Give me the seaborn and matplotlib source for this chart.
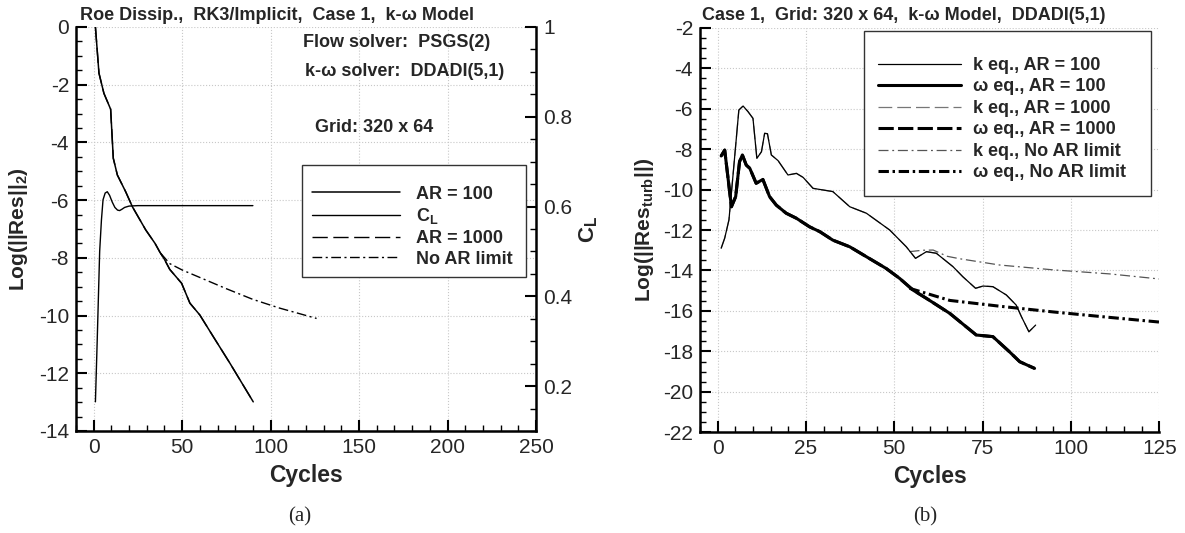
import matplotlib
matplotlib.use("Agg")
import matplotlib.pyplot as plt
import seaborn as sns
from matplotlib.ticker import MultipleLocator, FuncFormatter

# ---------------- data ----------------
# Panel (a): residual history
cyc_ar100 = [1, 3, 5.8, 9.6, 11.1, 13.4, 18.1, 21.9, 29.4, 34.7, 37.4, 40, 43, 49.7, 54.4, 60, 67.6, 77, 90.2]
res_ar100 = [0, -1.6, -2.3, -2.85, -4.55, -5.13, -5.71, -6.23, -7.03, -7.5, -7.8, -8.05, -8.4, -8.88, -9.57, -9.98, -10.73, -11.65, -12.99]
# AR = 1000 coincides with AR = 100 in the reference
cyc_ar1000 = [1, 3, 5.8, 9.6, 11.1, 13.4, 18.1, 21.9, 29.4, 34.7, 37.4, 40, 43, 49.7, 54.4, 60, 67.6, 77, 90.2]
res_ar1000 = [0, -1.6, -2.3, -2.85, -4.55, -5.13, -5.71, -6.23, -7.03, -7.5, -7.8, -8.05, -8.4, -8.88, -9.57, -9.98, -10.73, -11.65, -12.99]
cyc_noar = [38, 43, 50, 60, 75, 90, 105, 126]
res_noar = [-7.85, -8.2, -8.42, -8.68, -9.07, -9.44, -9.74, -10.1]
cyc_cl = [1, 2, 3.4, 4.4, 5.3, 6.5, 7.7, 9, 10.5, 12, 13.5, 14.7, 16, 17.5, 20, 25, 40, 60, 90]
cl_vals = [0.165, 0.3, 0.50, 0.57, 0.615, 0.630, 0.633, 0.625, 0.610, 0.598, 0.592, 0.591, 0.594, 0.598, 0.601, 0.602, 0.602, 0.602, 0.602]

# Panel (b): turbulence residual history
cyc_k100 = [1, 2, 3.2, 4.5, 6, 7.2, 8.6, 10, 11.1, 12.4, 13.3, 14.1, 15.2, 17.1, 19.9, 22.3, 24.2, 27, 29.8,
            32.6, 37.4, 42.1, 48.7, 53.4, 56, 59.1, 61.9, 66.6, 69.4, 73, 75.1, 77.9, 81.7, 84.5, 86, 88.1, 90]
res_k100 = [-12.9, -12.4, -11.5, -9.0, -6.07, -5.87, -6.15, -6.48, -8.46, -8.13, -7.22, -7.24, -8.29, -8.57, -9.28,
            -9.2, -9.4, -9.94, -10.02, -10.1, -10.85, -11.17, -12.0, -12.83, -13.4, -13.07, -13.15, -13.81, -14.31,
            -14.88, -14.77, -14.8, -15.21, -15.71, -16.29, -17.03, -16.7]
cyc_w100 = [1, 2, 3.9, 5.1, 6.2, 7, 8.1, 9.1, 10.9, 12.8, 14.7, 16.6, 19.4, 22.3, 26, 28.9, 32.6, 37.4, 42.1,
            47.7, 51.5, 55.3, 59.1, 65.7, 73.2, 77.9, 82.6, 85.5, 89.7]
res_w100 = [-8.34, -8.05, -10.85, -10.35, -8.62, -8.29, -8.79, -8.95, -9.69, -9.5, -10.35, -10.77, -11.17, -11.42,
            -11.84, -12.08, -12.5, -12.83, -13.32, -13.9, -14.39, -14.97, -15.38, -16.12, -17.19, -17.27, -18.02,
            -18.51, -18.84]
# AR = 1000 curves coincide with AR = 100 in the reference
cyc_k1000 = list(cyc_k100)
res_k1000 = list(res_k100)
cyc_w1000 = list(cyc_w100)
res_w1000 = list(res_w100)
cyc_knoar = [54.3, 58, 61, 65, 68.5, 79.8, 95, 111, 125]
res_knoar = [-13.07, -13.0, -12.99, -13.3, -13.42, -13.73, -13.97, -14.17, -14.42]
cyc_wnoar = [54.3, 65.7, 80, 95, 111, 125]
res_wnoar = [-14.88, -15.48, -15.77, -16.05, -16.32, -16.55]

labels_a = ["AR = 100", r"$\mathbf{C_L}$", "AR = 1000", "No AR limit"]
labels_b = ["k eq., AR = 100", "\u03c9 eq., AR = 100", "k eq., AR = 1000",
            "\u03c9 eq., AR = 1000", "k eq., No AR limit", "\u03c9 eq., No AR limit"]
title_a = "Roe Dissip.,  RK3/Implicit,  Case 1,  k-\u03c9 Model"
title_b = "Case 1,  Grid: 320 x 64,  k-\u03c9 Model,  DDADI(5,1)"
notes_a = ["Flow solver:  PSGS(2)", "k-\u03c9 solver:  DDADI(5,1)", "Grid: 320 x 64"]

# ---------------- style ----------------
sns.set_style("ticks")
plt.rcParams["font.family"] = ["Liberation Sans", "DejaVu Sans"]
plt.rcParams["axes.unicode_minus"] = False
plt.rcParams["mathtext.fontset"] = "custom"
plt.rcParams["mathtext.rm"] = "Liberation Sans"
plt.rcParams["mathtext.bf"] = "Liberation Sans:bold"
plt.rcParams["mathtext.it"] = "Liberation Sans:italic"

fig = plt.figure(figsize=(11.85, 5.33), dpi=100)
axL = fig.add_axes([0.0641, 0.1914, 0.3882, 0.7580])
axR = fig.add_axes([0.5907, 0.1889, 0.3876, 0.7591])

TICK_FS = 15
LAB_FS = 16.5
TXT_FS = 13
LEG_FS = 13


def draw(ax, x, y, lw, color="k", dashes=None):
    sns.lineplot(x=x, y=y, ax=ax, color=color, linewidth=lw, sort=False, estimator=None)
    ln = ax.lines[-1]
    if dashes is not None:
        ln.set_dashes(dashes)
    return ln


def style_axis(ax, xmaj, xmin, ymaj, ymin):
    ax.xaxis.set_major_locator(MultipleLocator(xmaj))
    ax.xaxis.set_minor_locator(MultipleLocator(xmin))
    ax.yaxis.set_major_locator(MultipleLocator(ymaj))
    ax.yaxis.set_minor_locator(MultipleLocator(ymin))
    ax.tick_params(which="major", direction="in", length=8, width=1.5, labelsize=TICK_FS, pad=5, color="k")
    ax.tick_params(which="minor", direction="in", length=4.5, width=1.0, color="k")
    for s in ["top", "right"]:
        ax.spines[s].set_visible(False)
    for s in ["left", "bottom"]:
        ax.spines[s].set_linewidth(1.8)
        ax.spines[s].set_color("k")
    ax.grid(True, which="major", color="#c8c8c8", linestyle=":", linewidth=0.8)
    fmt = FuncFormatter(lambda v, p: "%g" % round(v, 6))
    ax.xaxis.set_major_formatter(fmt)
    ax.yaxis.set_major_formatter(fmt)


# ---------------- panel (a) ----------------
axL.set_xlim(-10, 250)
axL.set_ylim(-14, 0)
style_axis(axL, 50, 10, 2, 0.5)
dash_a = (11, 4)
dashdot_a = (7, 2.5, 1.5, 2.5)
l_1000 = draw(axL, cyc_ar1000, res_ar1000, 1.0, dashes=dash_a)
l_noar = draw(axL, cyc_noar, res_noar, 1.0, dashes=dashdot_a)
l_100 = draw(axL, cyc_ar100, res_ar100, 1.1)
axL.set_xlabel("Cycles", fontsize=LAB_FS, fontweight="bold", labelpad=5)
axL.set_ylabel(r"Log(||Res||$_\mathbf{2}$)", fontsize=15, fontweight="bold", labelpad=6)

axT = axL.twinx()
axT.set_ylim(0.1, 1.0)
axT.yaxis.set_major_locator(MultipleLocator(0.2))
axT.yaxis.set_minor_locator(MultipleLocator(0.05))
axT.yaxis.set_major_formatter(FuncFormatter(lambda v, p: "%g" % round(v, 6)))
axT.tick_params(which="major", direction="in", length=8, width=1.5, labelsize=TICK_FS, pad=5, color="k")
axT.tick_params(which="minor", direction="in", length=4.5, width=1.0, color="k")
for s in ["top", "left", "bottom"]:
    axT.spines[s].set_visible(False)
axT.spines["right"].set_linewidth(1.8)
axT.spines["right"].set_color("k")
l_cl = draw(axT, cyc_cl, cl_vals, 1.0)
axT.set_ylabel(r"$\mathbf{C_L}$", fontsize=16, labelpad=4)

legA = axT.legend([l_100, l_cl, l_1000, l_noar], labels_a, loc="upper left",
                  bbox_to_anchor=(0.491, 0.30, 0.487, 0.358), bbox_transform=axT.transAxes,
                  mode="expand",
                  prop={"weight": "bold", "size": LEG_FS}, frameon=True, fancybox=False,
                  edgecolor="#333333", framealpha=1, borderpad=0.55, handlelength=4.9,
                  handletextpad=0.9, labelspacing=0.2, borderaxespad=0,
                  title=" ", title_fontsize=5)
legA.get_frame().set_linewidth(1.0)

fig.text(80 / 1185, 1 - 20 / 533, title_a, fontsize=TXT_FS, fontweight="bold", va="baseline")
fig.text(303 / 1185, 1 - 47 / 533, notes_a[0], fontsize=TXT_FS, fontweight="bold", va="baseline")
fig.text(305 / 1185, 1 - 76 / 533, notes_a[1], fontsize=TXT_FS, fontweight="bold", va="baseline")
fig.text(315 / 1185, 1 - 132 / 533, notes_a[2], fontsize=TXT_FS, fontweight="bold", va="baseline")

# ---------------- panel (b) ----------------
axR.set_xlim(-5, 125)
axR.set_ylim(-22, -2)
style_axis(axR, 25, 5, 2, 0.5)
lk1000 = draw(axR, cyc_k1000, res_k1000, 0.9, color="#777777", dashes=(11, 4))
lw1000 = draw(axR, cyc_w1000, res_w1000, 2.2, dashes=(5, 1.4))
lknoar = draw(axR, cyc_knoar, res_knoar, 0.9, color="#555555", dashes=(8, 3, 1.5, 3))
lwnoar = draw(axR, cyc_wnoar, res_wnoar, 2.2, dashes=(3.4, 1.2, 0.8, 1.2))
lk100 = draw(axR, cyc_k100, res_k100, 0.9)
lw100 = draw(axR, cyc_w100, res_w100, 2.2)
axR.set_xlabel("Cycles", fontsize=LAB_FS, fontweight="bold", labelpad=5)
axR.set_ylabel(r"Log(||Res$_\mathbf{turb}$||)", fontsize=15, fontweight="bold", labelpad=5)

legB = axR.legend([lk100, lw100, lk1000, lw1000, lknoar, lwnoar], labels_b, loc="upper left",
                  bbox_to_anchor=(0.357, 0.5, 0.625, 0.492), bbox_transform=axR.transAxes,
                  mode="expand",
                  prop={"weight": "bold", "size": LEG_FS}, frameon=True, fancybox=False,
                  edgecolor="#333333", framealpha=1, borderpad=0.8, handlelength=4.6,
                  handletextpad=0.65, labelspacing=0.25, borderaxespad=0,
                  title=" ", title_fontsize=6)
legB.get_frame().set_linewidth(1.0)

fig.text(702 / 1185, 1 - 20 / 533, title_b, fontsize=TXT_FS, fontweight="bold", va="baseline")

# ---------------- panel captions ----------------
fig.text(300 / 1185, 1 - 517 / 533, "(a)", fontsize=15, family="Liberation Serif", ha="center", va="center")
fig.text(925 / 1185, 1 - 517 / 533, "(b)", fontsize=15, family="Liberation Serif", ha="center", va="center")

fig.savefig("out.png", dpi=100)
